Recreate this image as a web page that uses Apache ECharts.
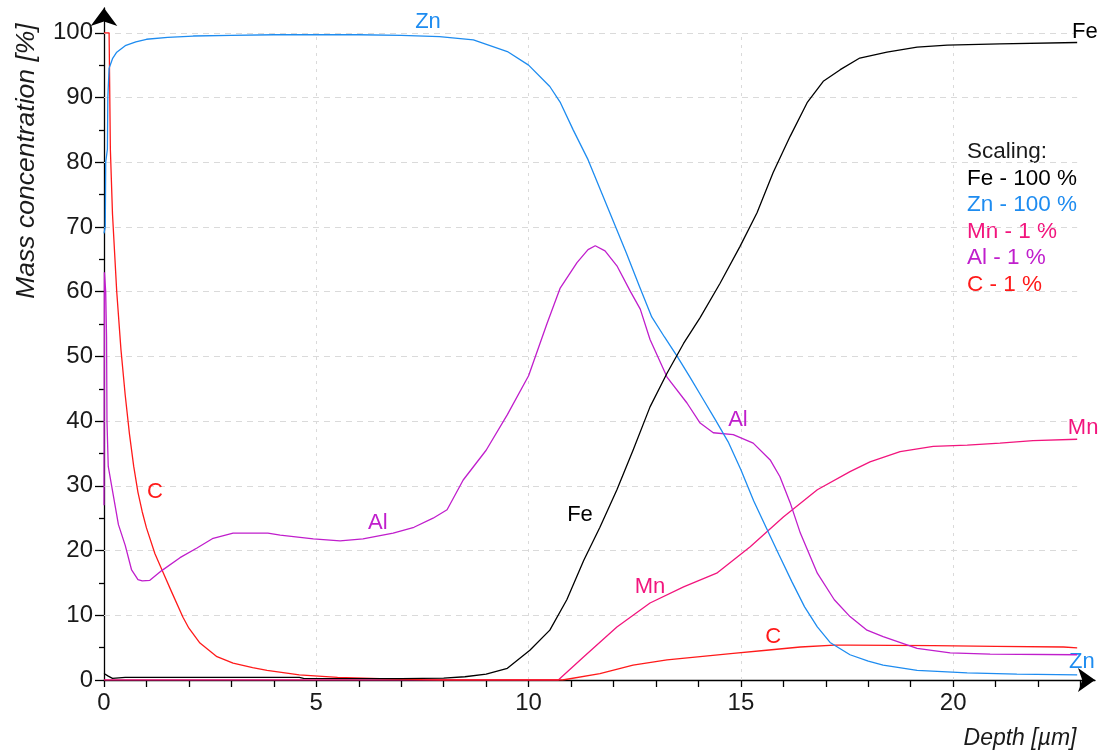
<!DOCTYPE html>
<html>
<head>
<meta charset="utf-8">
<script src="https://cdn.jsdelivr.net/npm/echarts@6/dist/echarts.min.js"></script>
<style>html,body{margin:0;padding:0;background:#fff}#c{width:1100px;height:755px}</style>
</head>
<body>
<div id="c"></div>
<script>
// ---- data (depth in µm, mass concentration in %) ----
var feX = [0, 0.1, 0.2, 0.5, 4.6, 4.7, 7, 8, 8.5, 9, 9.5, 10.03, 10.5, 10.9, 11.3, 11.68, 12.08, 12.46, 12.86, 13.26, 13.65, 14.04, 14.51, 14.98, 15.38, 15.76, 16.16, 16.56, 16.94, 17.34, 17.8, 18.44, 19.15, 19.86, 21.1, 22.92];
var feY = [1.0, 0.6, 0.25, 0.4, 0.4, 0.25, 0.2, 0.3, 0.5, 0.9, 1.8, 4.6, 7.7, 12.4, 18.5, 23.6, 29.4, 35.5, 42.2, 47.4, 52.0, 56.0, 61.3, 67.0, 72.2, 78.4, 84.0, 89.2, 92.5, 94.3, 96.1, 97.0, 97.8, 98.1, 98.3, 98.5];

var znX = [0, 0.03, 0.04, 0.08, 0.09, 0.12, 0.2, 0.3, 0.5, 0.75, 1.0, 1.5, 2.1, 3, 4, 5, 6, 7, 7.9, 8.7, 9.5, 10.0, 10.5, 10.75, 11.05, 11.4, 11.7, 12.0, 12.3, 12.6, 12.9, 13.2, 13.5, 13.8, 14.1, 14.4, 14.7, 15.0, 15.3, 15.6, 15.9, 16.2, 16.5, 16.8, 17.1, 17.57, 18.0, 18.35, 19.15, 20.33, 21.5, 22.92];
var znY = [69, 70, 80, 82, 90, 94.5, 96, 97, 98, 98.6, 99, 99.3, 99.5, 99.6, 99.7, 99.7, 99.7, 99.6, 99.4, 98.9, 97.1, 95.0, 91.7, 89.2, 85.0, 80.4, 75.6, 70.8, 66.0, 61.0, 56.1, 53.0, 50.0, 46.8, 43.5, 40.2, 36.8, 32.5, 27.7, 23.5, 19.3, 15.2, 11.3, 8.2, 5.8, 3.9, 2.9, 2.3, 1.5, 1.1, 0.9, 0.8];

var mnX = [0, 10.7, 11.3, 12.08, 12.86, 13.65, 14.43, 15.22, 16.0, 16.8, 17.57, 18.04, 18.75, 19.53, 20.33, 21.1, 21.88, 22.92];
var mnY = [0, 0, 3.6, 8.2, 11.9, 14.4, 16.5, 20.6, 25.2, 29.4, 32.2, 33.7, 35.3, 36.1, 36.3, 36.6, 37.0, 37.2];

var alX = [0, 0.01, 0.04, 0.06, 0.07, 0.1, 0.18, 0.34, 0.5, 0.65, 0.8, 0.9, 1.08, 1.36, 1.79, 2.19, 2.57, 3.04, 3.86, 4.15, 4.93, 5.56, 6.1, 6.81, 7.3, 7.75, 8.08, 8.46, 9.0, 9.5, 10.0, 10.43, 10.74, 11.14, 11.4, 11.57, 11.8, 12.08, 12.4, 12.63, 12.86, 13.26, 13.73, 14.04, 14.35, 14.82, 15.29, 15.69, 15.92, 16.16, 16.4, 16.8, 17.2, 17.57, 17.97, 18.35, 19.15, 19.93, 20.87, 22.92];
var alY = [27, 63, 60, 53, 40, 33, 30, 24, 20.8, 17, 15.5, 15.3, 15.4, 16.9, 18.9, 20.4, 21.9, 22.7, 22.7, 22.4, 21.8, 21.5, 21.8, 22.7, 23.6, 25.0, 26.3, 30.9, 35.5, 41.0, 47.0, 55.0, 60.5, 64.5, 66.5, 67.1, 66.3, 64.0, 60.0, 57.3, 52.6, 46.8, 42.8, 39.7, 38.2, 37.9, 36.6, 34.0, 31.4, 27.4, 22.7, 16.5, 12.4, 9.8, 7.7, 6.7, 4.9, 4.2, 4.0, 3.9];

var cX = [0, 0.12, 0.15, 0.2, 0.3, 0.4, 0.5, 0.6, 0.7, 0.8, 0.9, 1.0, 1.2, 1.4, 1.6, 1.86, 2.0, 2.26, 2.66, 3.04, 3.5, 3.84, 4.6, 5.5, 6.5, 7.5, 8.0, 10.8, 11.68, 12.46, 13.26, 14.04, 14.82, 15.6, 16.4, 17.2, 17.57, 19.53, 21.0, 22.6, 22.92];
var cY = [100, 100, 82, 72, 60, 51, 44, 38, 33, 29, 26, 23.5, 19.5, 16.5, 13.5, 9.7, 8.0, 5.7, 3.6, 2.6, 1.9, 1.5, 0.8, 0.4, 0.2, 0.05, 0, 0, 1.0, 2.3, 3.1, 3.6, 4.1, 4.6, 5.1, 5.4, 5.4, 5.3, 5.2, 5.1, 4.95];

var xTickValues = [0,1,2,3,4,5,6,7,8,9,10,11,12,13,14,15,16,17,18,19,20,21,22,23];
var xLabelValues = [0, 5, 10, 15, 20];
var yLabelValues = [0, 10, 20, 30, 40, 50, 60, 70, 80, 90, 100];
var yMinorValues = [5, 15, 25, 35, 45, 55, 65, 75, 85, 95];
var scalingLines = ['Fe - 100 %', 'Zn - 100 %', 'Mn - 1 %', 'Al - 1 %', 'C - 1 %'];

var colors = { Fe: '#000000', Zn: '#1e8cf0', Mn: '#f2157d', Al: '#c01ecc', C: '#ff1a1a' };
var FONT = '"Liberation Sans", Arial, sans-serif';

function zip(xs, ys) { return xs.map(function (x, i) { return [x, ys[i]]; }); }

function lbl(text, x, y, color) {
  return { coord: [x, y], value: text, symbol: 'circle', symbolSize: 1,
    itemStyle: { color: 'rgba(0,0,0,0)' },
    label: { show: true, position: 'inside', formatter: text, color: color, fontSize: 22, fontFamily: FONT } };
}

function lineSeries(name, xs, ys, labels) {
  return {
    name: name, type: 'line', data: zip(xs, ys), showSymbol: false, symbol: 'none',
    xAxisIndex: 0, yAxisIndex: 0, z: 5,
    lineStyle: { color: colors[name], width: 1.3 }, itemStyle: { color: colors[name] },
    animation: false, silent: true,
    markPoint: { silent: true, animation: false, data: labels }
  };
}

var gridLines = [];
[10,20,30,40,50,60,70,80,90,100].forEach(function (v) {
  gridLines.push([{ coord: [0, v], lineStyle: { type: [6, 5] } }, { coord: [22.92, v] }]);
});
[5,10,15,20].forEach(function (v) {
  gridLines.push([{ coord: [v, 0], lineStyle: { type: [3, 5] } }, { coord: [v, 100] }]);
});

var chart = echarts.init(document.getElementById('c'), null, { renderer: 'canvas' });
chart.setOption({
  animation: false,
  backgroundColor: '#ffffff',
  grid: { left: 104, right: 5, top: 8, bottom: 75 },
  xAxis: [{
    type: 'value', min: 0, max: 23.34,
    axisLine: { show: true, onZero: false, symbol: ['none', 'arrow'], symbolSize: [18, 17], lineStyle: { color: '#000', width: 1.3 } },
    axisTick: { show: true, customValues: xTickValues, length: 7, lineStyle: { color: '#000', width: 1.3 } },
    axisLabel: { customValues: xLabelValues, fontSize: 24, color: '#1a1a1a', fontFamily: FONT, margin: 11 },
    splitLine: { show: false }
  }],
  yAxis: [{
    type: 'value', min: 0, max: 103.83,
    axisLine: { show: true, onZero: false, symbol: ['none', 'arrow'], symbolSize: [20, 18], lineStyle: { color: '#000', width: 1.3 } },
    axisTick: { show: true, customValues: yLabelValues, length: 9, lineStyle: { color: '#000', width: 1.3 } },
    axisLabel: { customValues: yLabelValues, fontSize: 24, color: '#1a1a1a', fontFamily: FONT, margin: 11 },
    splitLine: { show: false }
  }, {
    type: 'value', min: 0, max: 103.83, position: 'left', offset: 0,
    axisLine: { show: false },
    axisTick: { show: true, customValues: yMinorValues, length: 5, lineStyle: { color: '#000', width: 1.3 } },
    axisLabel: { show: false },
    splitLine: { show: false }
  }],
  graphic: [
    { type: 'text', x: 27, y: 161, rotation: Math.PI / 2, silent: true,
      style: { text: 'Mass concentration [%]', font: 'italic 26.5px ' + FONT, fill: '#1a1a1a', align: 'center', verticalAlign: 'middle' } },
    { type: 'text', x: 1020, y: 739, silent: true,
      style: { text: 'Depth [µm]', font: 'italic 23px ' + FONT, fill: '#1a1a1a', align: 'center', verticalAlign: 'middle' } },
    { type: 'text', x: 967, y: 152, silent: true,
      style: { text: 'Scaling:', font: '22.5px ' + FONT, fill: '#1a1a1a', align: 'left', verticalAlign: 'middle' } },
    { type: 'text', x: 967, y: 178.5, silent: true,
      style: { text: scalingLines[0], font: '22.5px ' + FONT, fill: colors.Fe, align: 'left', verticalAlign: 'middle' } },
    { type: 'text', x: 967, y: 205, silent: true,
      style: { text: scalingLines[1], font: '22.5px ' + FONT, fill: colors.Zn, align: 'left', verticalAlign: 'middle' } },
    { type: 'text', x: 967, y: 231.5, silent: true,
      style: { text: scalingLines[2], font: '22.5px ' + FONT, fill: colors.Mn, align: 'left', verticalAlign: 'middle' } },
    { type: 'text', x: 967, y: 258, silent: true,
      style: { text: scalingLines[3], font: '22.5px ' + FONT, fill: colors.Al, align: 'left', verticalAlign: 'middle' } },
    { type: 'text', x: 967, y: 284.5, silent: true,
      style: { text: scalingLines[4], font: '22.5px ' + FONT, fill: colors.C, align: 'left', verticalAlign: 'middle' } }
  ],
  series: [
    {
      type: 'line', data: [], xAxisIndex: 0, yAxisIndex: 0, z: 1, silent: true, animation: false,
      markLine: { silent: true, animation: false, symbol: ['none', 'none'], label: { show: false },
        lineStyle: { color: '#dadada', width: 1, type: [6, 5] }, data: gridLines }
    },
    lineSeries('Mn', mnX, mnY, [lbl('Mn', 12.86, 14.4, colors.Mn), lbl('Mn', 23.06, 38.9, colors.Mn)]),
    lineSeries('C', cX, cY, [lbl('C', 1.2, 29, colors.C), lbl('C', 15.76, 6.6, colors.C)]),
    lineSeries('Al', alX, alY, [lbl('Al', 6.45, 24.3, colors.Al), lbl('Al', 14.93, 40.2, colors.Al)]),
    lineSeries('Zn', znX, znY, [lbl('Zn', 7.63, 101.7, colors.Zn), lbl('Zn', 23.03, 2.8, colors.Zn)]),
    lineSeries('Fe', feX, feY, [lbl('Fe', 11.21, 25.5, colors.Fe), lbl('Fe', 23.1, 100.2, colors.Fe)])
  ]
});
</script>
</body>
</html>
